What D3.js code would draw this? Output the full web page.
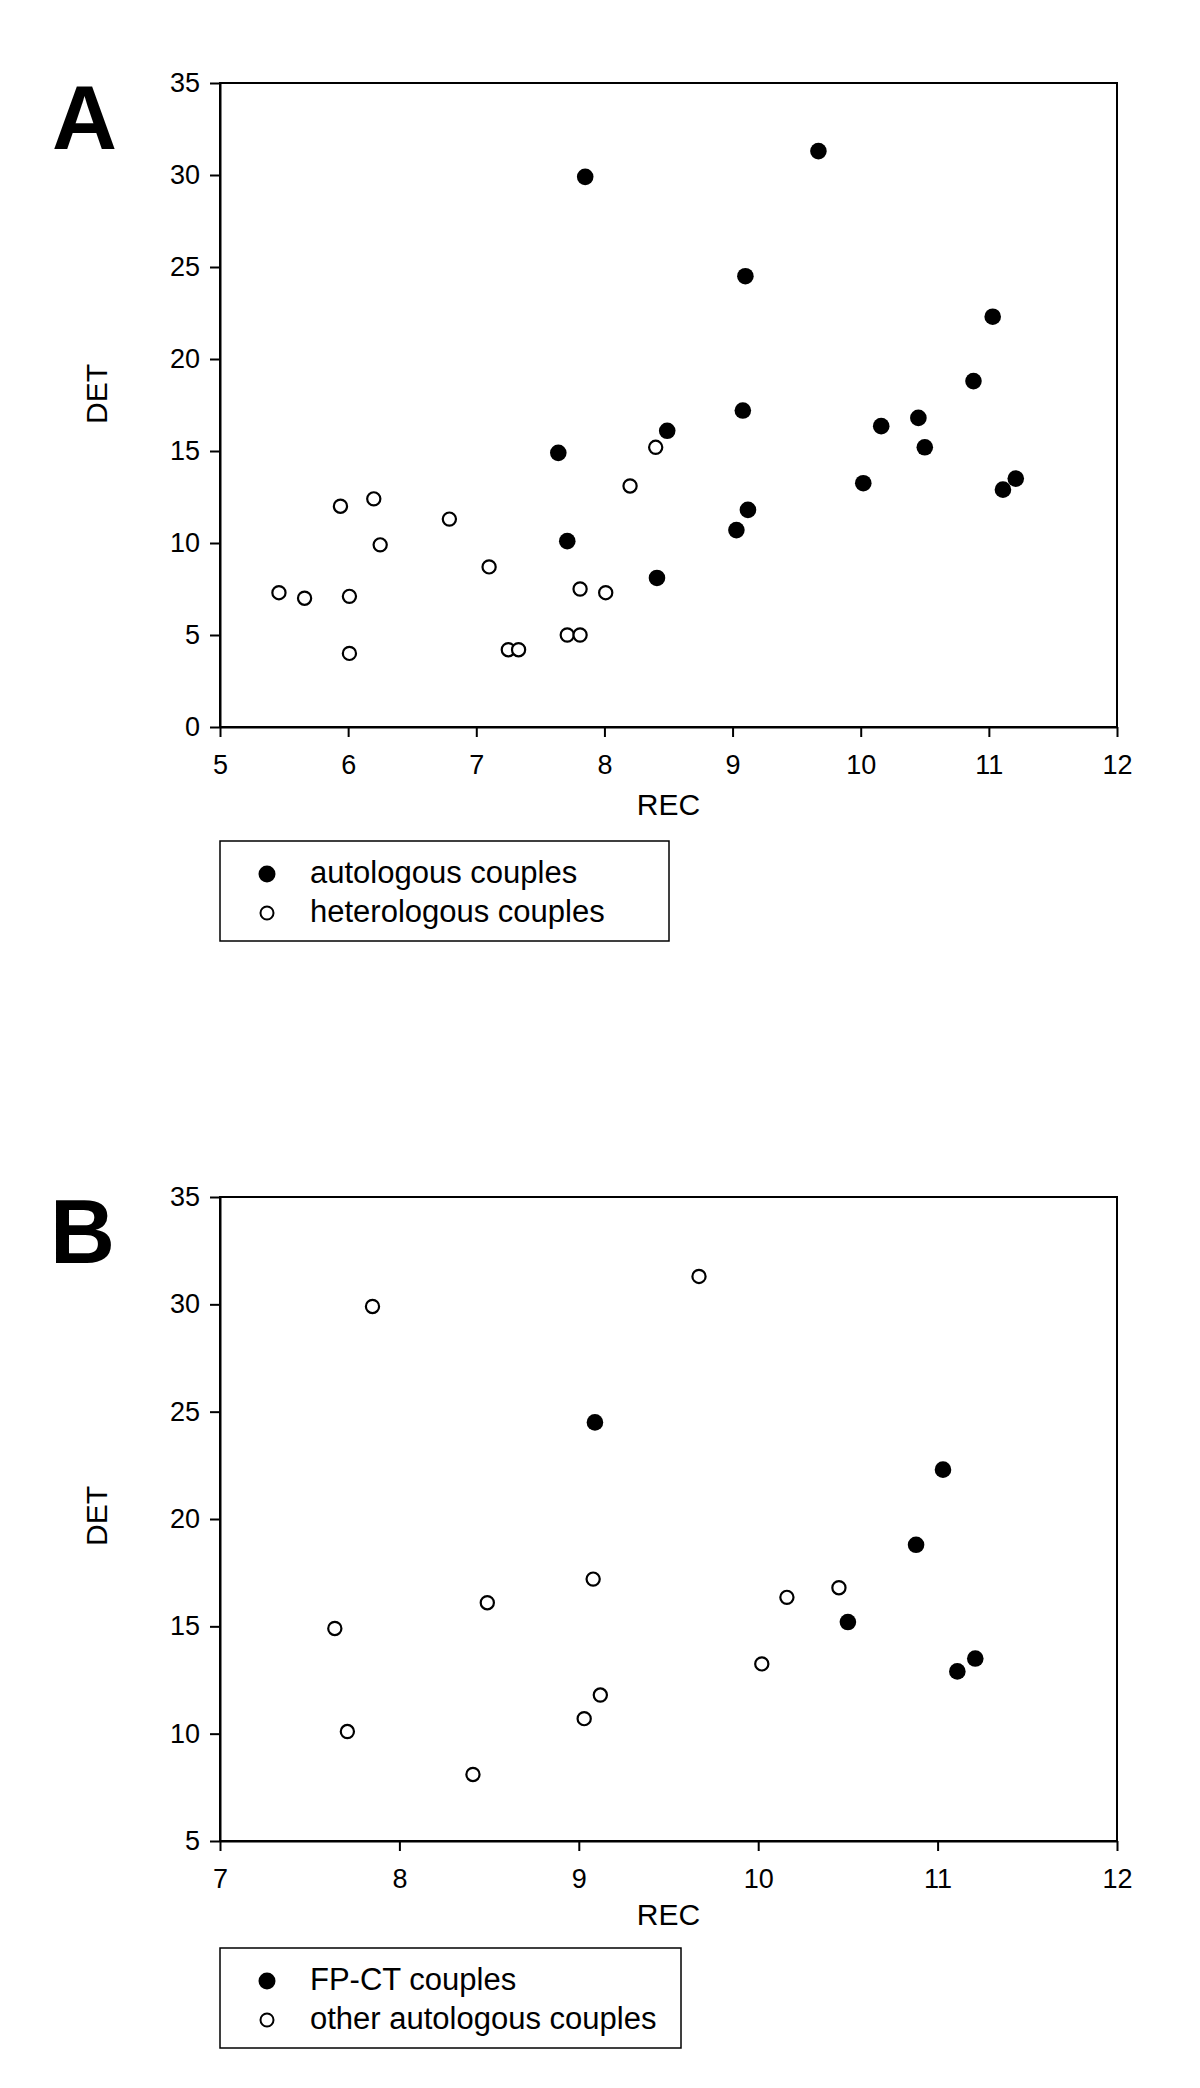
<!DOCTYPE html>
<html>
<head>
<meta charset="utf-8">
<script src="https://cdn.jsdelivr.net/npm/d3@7"></script>
<style>
body { margin: 0; background: #fff; }
.chart { width: 1200px; height: 2088px; }
text { font-family: "Liberation Sans", Arial, Helvetica, sans-serif; fill: #000; }
</style>
</head>
<body>
<div class="chart"></div>
<script>
//Panel A - autologous vs heterologous couples (REC, DET)
const autoRec = [7.85, 9.67, 9.10, 11.03, 10.88, 9.08, 8.49, 10.16, 10.45, 10.50, 7.64, 7.71, 9.12, 9.03, 8.41, 10.02, 11.11, 11.21];
const autoDet = [29.9, 31.3, 24.5, 22.3, 18.8, 17.2, 16.1, 16.35, 16.8, 15.2, 14.9, 10.1, 11.8, 10.7, 8.1, 13.25, 12.9, 13.5];
const heteroRec = [5.94, 6.20, 6.79, 6.25, 7.10, 5.46, 5.66, 6.01, 6.01, 7.25, 7.33, 7.71, 7.81, 7.81, 8.01, 8.40, 8.20];
const heteroDet = [12.0, 12.4, 11.3, 9.9, 8.7, 7.3, 7.0, 7.1, 4.0, 4.2, 4.2, 5.0, 5.0, 7.5, 7.3, 15.2, 13.1];

//Panel B - the autologous couples split into FP-CT and the rest
const fpctRec = [9.09, 11.03, 10.88, 10.50, 11.11, 11.21];
const fpctDet = [24.5, 22.3, 18.8, 15.2, 12.9, 13.5];
const otherRec = [7.85, 9.67, 7.64, 7.71, 8.49, 9.08, 9.12, 9.03, 8.41, 10.02, 10.16, 10.45];
const otherDet = [29.9, 31.3, 14.9, 10.1, 16.1, 17.2, 11.8, 10.7, 8.1, 13.25, 16.35, 16.8];

//Ticks and labels
const xTicksA = [5, 6, 7, 8, 9, 10, 11, 12];
const yTicksA = [0, 5, 10, 15, 20, 25, 30, 35];
const xTicksB = [7, 8, 9, 10, 11, 12];
const yTicksB = [5, 10, 15, 20, 25, 30, 35];
const legendA = ["autologous couples", "heterologous couples"];
const legendB = ["FP-CT couples", "other autologous couples"];
const xTitle = "REC";
const yTitle = "DET";


//A global object to hold everything
let chart = {};

init();

function init() {

    chart.left = 220;
    chart.right = 1117;

    chart.panels = [{
        letter: "A",
        letterX: 52,
        top: 83,
        bottom: 727,
        xTicks: xTicksA,
        yTicks: yTicksA,
        series: [
            { rec: heteroRec, det: heteroDet, filled: false },
            { rec: autoRec, det: autoDet, filled: true }
        ],
        legend: legendA,
        legendTop: 841,
        legendWidth: 449,
        titleGap: 88,
        detShift: -11
    }, {
        letter: "B",
        letterX: 50,
        top: 1197,
        bottom: 1841,
        xTicks: xTicksB,
        yTicks: yTicksB,
        series: [
            { rec: otherRec, det: otherDet, filled: false },
            { rec: fpctRec, det: fpctDet, filled: true }
        ],
        legend: legendB,
        legendTop: 1948,
        legendWidth: 461,
        titleGap: 84,
        detShift: -3
    }];

    chart.svg = d3.select(".chart").append("svg")
        .attr("width", 1200)
        .attr("height", 2088);

    chart.panels.forEach(p => drawPanel(p));
}


function drawPanel(p) {

    let g = chart.svg.append("g");

    //scales come straight from the tick lists
    let x = d3.scaleLinear()
        .domain(d3.extent(p.xTicks))
        .range([chart.left, chart.right]);

    let y = d3.scaleLinear()
        .domain(d3.extent(p.yTicks))
        .range([p.bottom, p.top]);

    //frame (top and right side, the axes draw the rest)
    g.append("rect")
        .attr("x", chart.left)
        .attr("y", p.top)
        .attr("width", chart.right - chart.left)
        .attr("height", p.bottom - p.top)
        .attr("fill", "none")
        .attr("stroke", "#000")
        .attr("stroke-width", 2);

    let xAxis = g.append("g")
        .attr("transform", `translate(0,${p.bottom})`)
        .call(d3.axisBottom(x).tickValues(p.xTicks).tickFormat(d3.format("d"))
            .tickSize(10).tickPadding(18).tickSizeOuter(0));

    let yAxis = g.append("g")
        .attr("transform", `translate(${chart.left},0)`)
        .call(d3.axisLeft(y).tickValues(p.yTicks).tickFormat(d3.format("d"))
            .tickSize(10).tickPadding(10).tickSizeOuter(0));

    [xAxis, yAxis].forEach(a => {
        a.selectAll("path, line").attr("stroke", "#000").attr("stroke-width", 2);
        a.selectAll("text").style("font-size", "27px");
    });

    //axis titles
    g.append("text")
        .attr("x", (chart.left + chart.right) / 2)
        .attr("y", p.bottom + p.titleGap)
        .attr("text-anchor", "middle")
        .style("font-size", "30px")
        .text(xTitle);

    g.append("text")
        .attr("transform", `translate(107,${(p.top + p.bottom) / 2 + p.detShift}) rotate(-90)`)
        .attr("text-anchor", "middle")
        .style("font-size", "30px")
        .text(yTitle);

    //panel letter
    g.append("text")
        .attr("x", p.letterX)
        .attr("y", p.top + 66)
        .style("font-size", "90px")
        .style("font-weight", "bold")
        .text(p.letter);

    //points
    p.series.forEach(s => {
        g.selectAll(null)
            .data(s.rec.map((r, i) => ({ rec: r, det: s.det[i] })))
            .enter().append("circle")
            .attr("cx", d => x(d.rec))
            .attr("cy", d => y(d.det))
            .attr("r", s.filled ? 8.3 : 6.6)
            .attr("fill", s.filled ? "#000" : "#fff")
            .attr("stroke", "#000")
            .attr("stroke-width", s.filled ? 0 : 2.2);
    });

    //legend
    let lg = g.append("g")
        .attr("transform", `translate(${chart.left},${p.legendTop})`);

    lg.append("rect")
        .attr("width", p.legendWidth)
        .attr("height", 100)
        .attr("fill", "none")
        .attr("stroke", "#000")
        .attr("stroke-width", 1.5);

    let rows = lg.selectAll("g.row")
        .data(p.legend)
        .enter().append("g")
        .attr("class", "row")
        .attr("transform", (d, i) => `translate(0,${33 + i * 39})`);

    rows.append("circle")
        .attr("cx", 47)
        .attr("r", (d, i) => i === 0 ? 8.5 : 6.5)
        .attr("fill", (d, i) => i === 0 ? "#000" : "#fff")
        .attr("stroke", "#000")
        .attr("stroke-width", (d, i) => i === 0 ? 0 : 2);

    rows.append("text")
        .attr("x", 90)
        .attr("y", 9)
        .style("font-size", "31px")
        .text(d => d);
}
</script>
</body>
</html>
